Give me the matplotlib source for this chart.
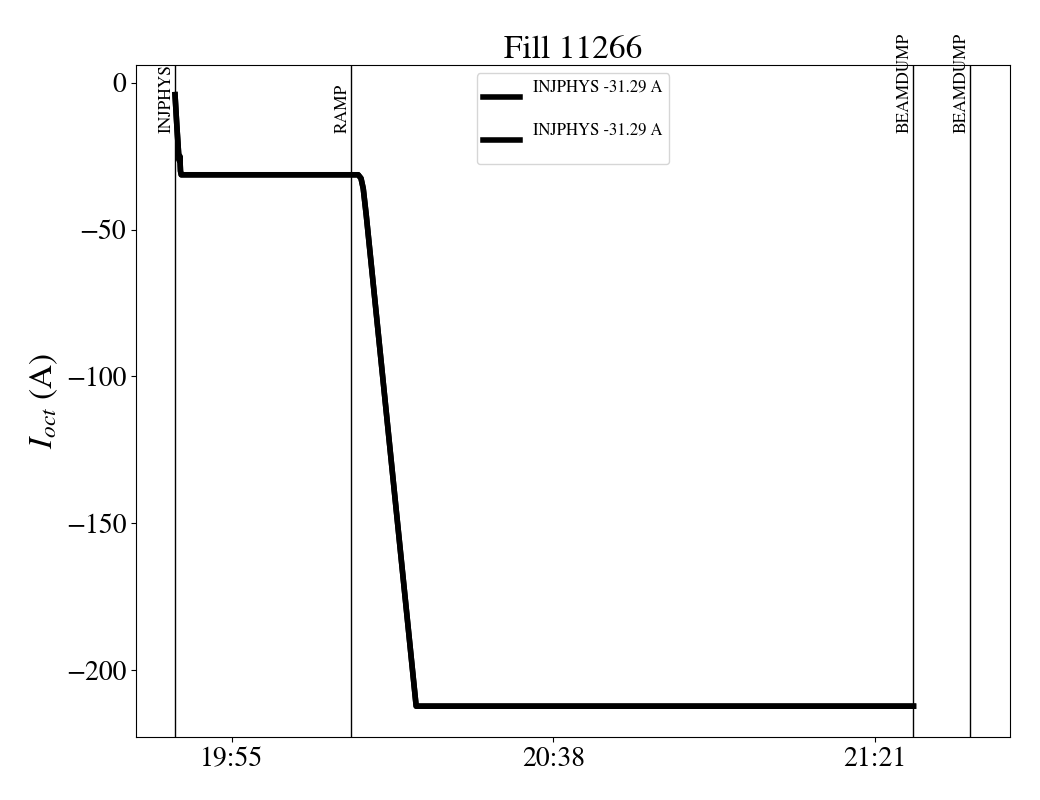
import datetime as dt
import matplotlib
matplotlib.use('Agg')
import matplotlib.pyplot as plt
import matplotlib.dates as mdates

plt.rcParams['font.family'] = ['STIXGeneral', 'Liberation Serif', 'DejaVu Serif']
plt.rcParams['mathtext.fontset'] = 'stix'

# octupole current trace, time as minutes after 19:00
t_min = [47.37, 47.6, 47.85, 47.95, 48.02, 48.1, 48.2, 71.87, 72.25, 72.55, 72.95, 79.63, 146.16]
i_oct = [-4.0, -14.0, -24.0, -26.5, -25.0, -30.0, -31.29, -31.29, -32.5, -36.0, -45.0, -212.3, -212.3]

# beam mode changes, minutes after 19:00
mode_names = ['INJPHYS', 'RAMP', 'BEAMDUMP', 'BEAMDUMP']
mode_min = [47.37, 70.93, 146.09, 153.7]

legend_labels = ['INJPHYS -31.29 A', 'INJPHYS -31.29 A']
tick_min = [55, 98, 141]

base = dt.datetime(2025, 1, 1, 19, 0)


def to_time(m):
    return base + dt.timedelta(minutes=m)


times = [to_time(m) for m in t_min]

fig = plt.figure(figsize=(10.4, 8), dpi=100)
ax = fig.add_axes([136/1040, 1 - 737/800, (1010 - 136)/1040, (737 - 65)/800])

ax.plot(times, i_oct, color='black', lw=4, label=legend_labels[0] + '\n')
ax.plot(times, i_oct, color='black', lw=4, label=legend_labels[1] + '\n')

for name, m in zip(mode_names, mode_min):
    ax.axvline(to_time(m), color='black', lw=1)
    ax.text(to_time(m), -17.0, name, rotation=90, ha='right', va='bottom',
            fontsize=12.5)

ax.set_xlim(to_time(42.15), to_time(159.07))
ax.set_ylim(-222.8, 6.1)
ax.set_xticks([to_time(m) for m in tick_min])
ax.xaxis.set_major_formatter(mdates.DateFormatter('%H:%M'))
ax.set_yticks([0, -50, -100, -150, -200])
ax.tick_params(labelsize=20)

ax.set_ylabel(r'$I_{oct}$ (A)', fontsize=24)
ax.set_title('Fill 11266', fontsize=24, pad=2)
ax.legend(loc='upper center', fontsize=12, labelspacing=0.5, handlelength=2.2)

fig.savefig('out.png', dpi=100)
